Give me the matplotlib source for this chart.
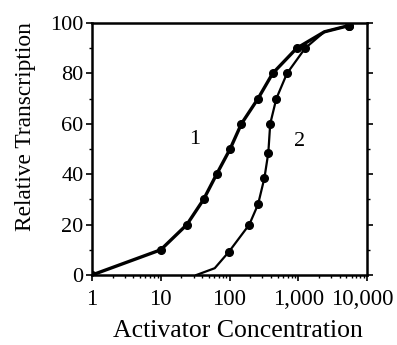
import matplotlib
matplotlib.use("Agg")
import matplotlib.pyplot as plt
import matplotlib.transforms as mtransforms
from matplotlib.ticker import FixedLocator, NullFormatter

plt.rcParams['font.family'] = ['Liberation Serif', 'DejaVu Serif']

# Curve 1 (marked = has a dot)
x1 = [1, 10, 24, 42, 65, 102, 149, 260, 424, 950, 2400, 5500]
y1 = [0, 10, 20, 30, 40, 50, 60, 70, 80, 90, 96.5, 99]
marked1 = [1, 1, 1, 1, 1, 1, 1, 1, 1, 1, 0, 1]
# Curve 2
x2 = [33, 61, 98, 194, 260, 322, 367, 391, 480, 686, 1260, 2400, 5500]
y2 = [0, 2.7, 9.2, 20, 28, 38.5, 48.5, 60, 70, 80, 90, 96.5, 99]
marked2 = [0, 0, 1, 1, 1, 1, 1, 1, 1, 1, 1, 0, 1]

xticks = [1, 10, 100, 1000, 10000]
xticklabels = ['1', '10', '100', '1,000', '10,000']
yticks = [0, 20, 40, 60, 80, 100]

fig = plt.figure(figsize=(3.97, 3.45), dpi=100)
ax = fig.add_axes([92/397, 1-275/345, (367-92)/397, (275-23)/345])

ax.plot(x1, y1, color='black', lw=2.4, marker='o', ms=5.5, zorder=3,
        markevery=[i for i, m in enumerate(marked1) if m])
ax.plot(x2, y2, color='black', lw=1.6, marker='o', ms=5.5, zorder=3,
        markevery=[i for i, m in enumerate(marked2) if m])

ax.set_xscale('log')
ax.set_xlim(1, 10000)
ax.set_ylim(0, 100)
ax.set_xticks(xticks)
ax.set_xticklabels(xticklabels)
ax.xaxis.set_minor_locator(FixedLocator([m * 10**e for e in range(4) for m in range(2, 10)]))
ax.xaxis.set_minor_formatter(NullFormatter())
ax.set_yticks(yticks)
ax.yaxis.set_minor_locator(FixedLocator([10, 30, 50, 70, 90]))

ax.tick_params(axis='both', which='major', direction='out', length=4, width=1.2, pad=2)
ax.tick_params(axis='both', which='minor', direction='out', length=2.5, width=1.0)
ax.tick_params(axis='y', which='both', right=True)
ax.tick_params(axis='y', which='major', labelsize=16)
ax.tick_params(axis='x', which='major', labelsize=16.5, pad=6)
for s in ax.spines.values():
    s.set_linewidth(1.8)

# nudge the last x tick label left so it stays inside the figure, as in the reference
lbls = ax.get_xticklabels()
lbls[-1].set_transform(lbls[-1].get_transform() +
                       mtransforms.ScaledTranslation(-5/100, 0, fig.dpi_scale_trans))

ax.text(31.5, 53.6, '1', fontsize=16, ha='center', va='center')
ax.text(1060, 52.9, '2', fontsize=16, ha='center', va='center')

ax.set_xlabel('Activator Concentration', fontsize=18.5, labelpad=3)
ax.xaxis.set_label_coords(0.53, -0.18)
ax.set_ylabel('Relative Transcription', fontsize=16.8)
ax.yaxis.set_label_coords(-0.205, 0.59)

fig.savefig('out.png', dpi=100)
